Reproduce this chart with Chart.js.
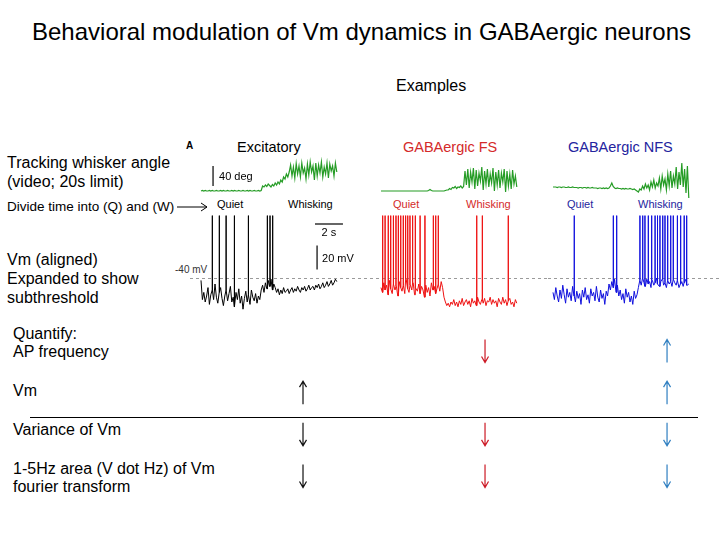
<!DOCTYPE html>
<html>
<head>
<meta charset="utf-8">
<title>Behavioral modulation of Vm dynamics in GABAergic neurons</title>
<script src="https://cdn.jsdelivr.net/npm/chart.js@4.4.1/dist/chart.umd.min.js"></script>
<style>
  html, body { margin: 0; background: #fff; }
  #slide { position: relative; width: 728px; height: 546px; overflow: hidden;
           font-family: "Liberation Sans", Arial, sans-serif; color: #000; }
  .t { position: absolute; white-space: nowrap; line-height: 1; }
  canvas { position: absolute; }
  .fs { color: #d42a2a; }
  .nfs { color: #24249e; }
</style>
</head>
<body>
<div id="slide">
  <div class="t" style="left:32px;top:20px;font-size:24px">Behavioral modulation of Vm dynamics in GABAergic neurons</div>
  <div class="t" style="left:396px;top:78px;font-size:16px">Examples</div>

  <div class="t" style="left:7px;top:155px;font-size:16px">Tracking whisker angle</div>
  <div class="t" style="left:7px;top:174px;font-size:16px">(video; 20s limit)</div>
  <div class="t" style="left:7px;top:200px;font-size:13.5px">Divide time into (Q) and (W)</div>
  <svg style="position:absolute;left:176px;top:201px" width="34" height="12">
    <path d="M1 6 H31 M25 2 L31 6 L25 10" stroke="#000" fill="none" stroke-width="1"/>
  </svg>
  <div class="t" style="left:7px;top:252px;font-size:16px">Vm (aligned)</div>
  <div class="t" style="left:7px;top:271px;font-size:16px">Expanded to show</div>
  <div class="t" style="left:7px;top:290px;font-size:16px">subthreshold</div>

  <div class="t" style="left:186px;top:141px;font-size:10px;font-weight:bold">A</div>
  <div class="t" style="left:237px;top:140px;font-size:14.5px">Excitatory</div>
  <div class="t fs" style="left:403px;top:140px;font-size:14.5px">GABAergic FS</div>
  <div class="t nfs" style="left:568px;top:140px;font-size:14.5px">GABAergic NFS</div>

  <div class="t" style="left:217px;top:199px;font-size:11px">Quiet</div>
  <div class="t" style="left:288px;top:199px;font-size:11px">Whisking</div>
  <div class="t fs" style="left:393px;top:199px;font-size:11px">Quiet</div>
  <div class="t fs" style="left:466px;top:199px;font-size:11px">Whisking</div>
  <div class="t nfs" style="left:567px;top:199px;font-size:11px">Quiet</div>
  <div class="t nfs" style="left:638px;top:199px;font-size:11px">Whisking</div>
  <div class="t" style="left:175px;top:265px;font-size:10px;color:#333">-40 mV</div>

  <div class="t" style="left:13px;top:326px;font-size:16px">Quantify:</div>
  <div class="t" style="left:13px;top:344px;font-size:16px">AP frequency</div>
  <div class="t" style="left:13px;top:383px;font-size:16px">Vm</div>
  <div class="t" style="left:13px;top:422px;font-size:16px">Variance of Vm</div>
  <div class="t" style="left:13px;top:461px;font-size:16px">1-5Hz area (V dot Hz) of Vm</div>
  <div class="t" style="left:13px;top:479px;font-size:16px">fourier transform</div>
  <div style="position:absolute;left:30px;top:417px;width:668px;border-top:1.5px solid #000"></div>

  <canvas id="angExc" width="140" height="45" style="left:199px;top:156px"></canvas>
  <canvas id="angFs" width="140" height="45" style="left:379px;top:156px"></canvas>
  <canvas id="angNfs" width="140" height="45" style="left:551px;top:156px"></canvas>
  <canvas id="vmExc" width="186" height="108" style="left:190px;top:206px"></canvas>
  <canvas id="vmFs" width="172" height="108" style="left:376px;top:206px"></canvas>
  <canvas id="vmNfs" width="172" height="108" style="left:548px;top:206px"></canvas>
  <canvas id="arrows" width="500" height="180" style="left:212px;top:320px"></canvas>
</div>
<script>
// sample spacing of the traces, seconds
const DT = 0.1
const SPIKE_PEAK = 12   // mV

// whisker angle (deg), one value per DT
const excAngle = [0, 1, 0, 1, 0, 0, 1, 0, 1, 0, 0, 1, 0, 0, 1, 0, 1, 0, 0, 1,
  0, 0, 1, 0, 1, 0, 0, 1, 0, 0, 1, 0, 0, 1, 0, 1, 0, 0, 1, 0, 0, 1, 0, 1,
  10, 8, 12, 9, 14, 11, 8, 13, 10, 16, 12, 18,
  14, 22, 18, 28, 24, 34, 28, 38,
  52, 30, 48, 26, 55, 34, 50, 28, 56, 36, 46, 24, 54, 32, 58, 38, 50, 22, 56, 30,
  52, 36, 58, 28, 48, 34, 56, 26, 54, 40, 50, 30, 56, 38]
const fsAngle = [0, 0, 0, 0, 0, 0, 0, 0, 0, 0, 0, 0, 0, 0, 0, 0, 0, 0, 0, 0,
  0, 0, 0, 0, 0, 0, 0, 0, 0, 0, 0, 0, 0, 0, 1, 3, 1, 0, 0, 0, 0, 0, 0, 0, 0, 0, 1, 2,
  2, 5, 3, 7, 6, 9, 5, 8, 7, 10, 6, 9,
  40, 12, 44, 6, 38, 18, 46, 4, 42, 10, 36, 20, 48, 2, 40, 14, 44, 8, 34, 16,
  46, 0, 38, 12, 42, 6, 36, 18, 44, -2, 40, 10, 34, 4, 42, 14, 30, 8]
const nfsAngle = [8, 8, 8, 7, 8, 8, 7, 8, 8, 7, 7, 8, 7, 7, 8, 7, 7, 7, 6, 7,
  7, 6, 7, 7, 6, 7, 6, 6, 7, 6, 6, 6, 5, 6, 6, 5, 6, 5, 6, 5, 6,
  10, 16, 9, 6,
  5, 6, 5, 5, 4, 5, 4, 5, 4, 4, 5, 4, 3, 4, 2,
  0, -2, 4, 2, 10, 4, 14, 6, 12, 2, 18, 8, 22, 6, 16, 10, 26, 4, 30, 12,
  24, 2, 34, 10, 40, 6, 30, 14, 48, 4, 38, 12, 56, 8, 44, -4, 50, -14]

// subthreshold Vm (mV), one value per DT
const excVm = [-42, -58, -52, -60, -55, -48, -62, -54, -50, -58, -45, -56, -61, -52, -48, -57, -63, -55, -50, -59,
  -53, -47, -60, -56, -64, -52, -58, -49, -61, -55, -66, -57, -51, -60, -54, -62, -50, -56, -59, -53,
  -61, -55, -58, -50,
  -46, -52, -44, -49, -42, -47, -41, -50, -45, -48,
  -52, -49, -54, -50, -53, -48, -52, -51, -49, -53, -50, -48, -52, -49, -51, -47, -50, -52, -48, -50,
  -47, -51, -49, -46, -50, -48, -47, -50, -46, -48, -45, -49, -47, -44, -48, -46, -43, -47, -45, -42,
  -46, -44, -41, -43]
const fsVm = [-48, -52, -44, -50, -46, -54, -42, -49, -53, -45, -50, -47, -55, -43, -48, -51, -46, -53, -41, -49,
  -52, -46, -50, -44, -54, -48, -51, -45, -53, -47, -50, -56, -46, -52, -48, -55, -44, -50, -47, -53,
  -49, -45, -51, -43, -48,
  -56, -60, -63, -61, -64, -60,
  -62, -58, -63, -60, -64, -59, -62, -57, -63, -60, -58, -62, -59, -64, -57, -61, -59, -63, -56, -60,
  -62, -58, -61, -57, -63, -59, -60, -56, -62, -58, -61, -59, -64, -57, -60, -62, -56, -61, -58, -63,
  -59, -57, -62, -60, -64, -58, -61]
const nfsVm = [-52, -58, -48, -55, -60, -50, -57, -46, -54, -61, -49, -56, -52, -59, -47, -55, -60, -51, -57, -53,
  -62, -50, -56, -48, -58, -54, -61, -49, -55, -52, -59, -47, -56, -60, -50, -57, -53, -62, -51, -55,
  -45, -50, -43, -48, -41, -52, -46, -55, -50, -58, -53, -61, -49, -56, -52, -60, -55, -62, -51, -57,
  -54, -48,
  -42, -46, -40, -44, -47, -41, -45, -43, -48, -42, -46, -44, -40, -45, -47, -43, -41, -46, -44, -48,
  -42, -45, -43, -47, -41, -44, -46, -42, -48, -45, -43, -47, -44, -41, -46, -45]

// action potential times (s)
const excSpikes = [0.81, 1.31, 1.79, 2.38, 3.38, 4.74, 4.93, 5.12]
const fsSpikes = [0.12, 0.29, 0.52, 0.69, 0.88, 1.07, 1.24, 1.41, 1.59, 1.76, 1.91, 2.07, 2.26, 2.43,
  2.79, 3.14, 3.74, 3.91, 4.09, 6.84, 7.24, 9.09]
const nfsSpikes = [1.52, 4.31, 4.55, 6.21, 6.41, 6.57, 6.81, 7.05, 7.29, 7.45, 7.64, 7.84, 8.0,
  8.19, 8.41, 8.59, 8.88, 9.12, 9.36, 9.55]

// quiet -> whisking change: 1 up, -1 down, 0 none
const rows = ['AP frequency', 'Vm', 'Variance of Vm', '1-5Hz area']
const cellTypes = ['Excitatory', 'GABAergic FS', 'GABAergic NFS']
const excChange = [0, 1, -1, -1]
const fsChange = [-1, 0, -1, -1]
const nfsChange = [1, 1, -1, -1]

const ANGLE_BAR = 40, TIME_BAR = 2, VM_BAR = 20

const GREEN = '#259c25'
const FONT = '11px "Liberation Sans", Arial, sans-serif'

const samples = values => values.map((v, i) => ({ x: +(i * DT).toFixed(2), y: v }))

function withSpikes(values, spikes) {
  const pts = samples(values)
  spikes.forEach(s => {
    const base = values[Math.min(values.length - 1, Math.round(s / DT))]
    pts.push({ x: s, y: base }, { x: s, y: SPIKE_PEAK }, { x: s, y: base })
  })
  return pts.sort((a, b) => a.x - b.x)
}

// scale bars, given in data units
const barsPlugin = bars => ({
  id: 'scaleBars',
  afterDatasetsDraw(chart) {
    const { ctx, scales: { x, y } } = chart
    ctx.save()
    ctx.strokeStyle = '#000'
    ctx.fillStyle = '#000'
    ctx.lineWidth = 1.2
    ctx.font = FONT
    bars.forEach(b => {
      const x0 = x.getPixelForValue(b.x0), x1 = x.getPixelForValue(b.x1)
      const y0 = y.getPixelForValue(b.y0), y1 = y.getPixelForValue(b.y1)
      ctx.beginPath()
      ctx.moveTo(x0, y0)
      ctx.lineTo(x1, y1)
      ctx.stroke()
      ctx.textAlign = b.align
      ctx.fillText(b.text, (x0 + x1) / 2 + b.dx, (y0 + y1) / 2 + b.dy)
    })
    ctx.restore()
  }
})

// dashed -40 mV line across the whole canvas
const refLinePlugin = value => ({
  id: 'refLine',
  beforeDatasetsDraw(chart) {
    const { ctx, scales: { y } } = chart
    const py = Math.round(y.getPixelForValue(value)) + 0.5
    ctx.save()
    ctx.strokeStyle = '#9a9a9a'
    ctx.lineWidth = 1
    ctx.setLineDash([3, 3])
    ctx.beginPath()
    ctx.moveTo(0, py)
    ctx.lineTo(chart.width, py)
    ctx.stroke()
    ctx.restore()
  }
})

function traceChart(id, data, color, width, xr, yr, plugins) {
  return new Chart(document.getElementById(id), {
    type: 'line',
    data: { datasets: [{ data, borderColor: color, borderWidth: width, pointRadius: 0, tension: 0 }] },
    options: {
      responsive: false,
      animation: false,
      layout: { padding: 0 },
      scales: {
        x: { type: 'linear', display: false, min: xr[0], max: xr[1] },
        y: { type: 'linear', display: false, min: yr[0], max: yr[1] }
      },
      plugins: { legend: { display: false }, tooltip: { enabled: false } }
    },
    plugins
  })
}

const angleX = [-0.143, 9.857]
const angleY = [-20, 70]
const vmY = [-70, 20]

traceChart('angExc', samples(excAngle), GREEN, 1.2, angleX, angleY, [
  barsPlugin([{ x0: 0.86, x1: 0.86, y0: 10, y1: 10 + ANGLE_BAR, text: ANGLE_BAR + ' deg', align: 'left', dx: 6, dy: 4 }])
])
traceChart('angFs', samples(fsAngle), GREEN, 1.2, angleX, angleY, [])
traceChart('angNfs', samples(nfsAngle), GREEN, 1.2, angleX, angleY, [])

traceChart('vmExc', withSpikes(excVm, excSpikes), '#000', 1, [-0.786, 12.5], vmY, [
  refLinePlugin(-40),
  barsPlugin([
    { x0: 8.14, x1: 8.14 + TIME_BAR, y0: 5, y1: 5, text: TIME_BAR + ' s', align: 'center', dx: 0, dy: 12 },
    { x0: 8.29, x1: 8.29, y0: -33, y1: -33 + VM_BAR, text: VM_BAR + ' mV', align: 'left', dx: 5, dy: 4 }
  ])
])
traceChart('vmFs', withSpikes(fsVm, fsSpikes), '#ee1111', 1, [-0.357, 11.93], vmY, [refLinePlugin(-40)])
traceChart('vmNfs', withSpikes(nfsVm, nfsSpikes), '#1010dd', 1, [-0.357, 11.93], vmY, [refLinePlugin(-40)])

// arrow table
const arrowPlugin = {
  id: 'changeArrows',
  afterDatasetsDraw(chart) {
    const ctx = chart.ctx
    chart.data.datasets.forEach((ds, di) => {
      chart.getDatasetMeta(di).data.forEach((pt, i) => {
        const dir = ds.data[i].dir
        const { x, y } = pt.getProps(['x', 'y'], true)
        const tip = y - dir * 11.5, tail = y + dir * 11.5
        ctx.save()
        ctx.strokeStyle = ds.borderColor
        ctx.lineWidth = 1.2
        ctx.beginPath()
        ctx.moveTo(x, tail)
        ctx.lineTo(x, tip)
        ctx.moveTo(x - 3.5, tip + dir * 6)
        ctx.lineTo(x, tip)
        ctx.lineTo(x + 3.5, tip + dir * 6)
        ctx.stroke()
        ctx.restore()
      })
    })
  }
}

const changes = [excChange, fsChange, nfsChange]
const arrowColors = ['#111111', '#cc1a26', '#2f7fc1']
new Chart(document.getElementById('arrows'), {
  type: 'scatter',
  data: {
    datasets: cellTypes.map((name, ci) => ({
      label: name,
      data: changes[ci].map((d, ri) => ({ x: ci, y: ri, dir: d })).filter(p => p.dir !== 0),
      borderColor: arrowColors[ci],
      pointRadius: 0
    }))
  },
  options: {
    responsive: false,
    animation: false,
    layout: { padding: 0 },
    scales: {
      x: { type: 'linear', display: false, min: -0.5, max: 2.247 },
      y: { type: 'linear', display: false, reverse: true, min: -0.744, max: 3.576 }
    },
    plugins: { legend: { display: false }, tooltip: { enabled: false } }
  },
  plugins: [arrowPlugin]
})
</script>
</body>
</html>
